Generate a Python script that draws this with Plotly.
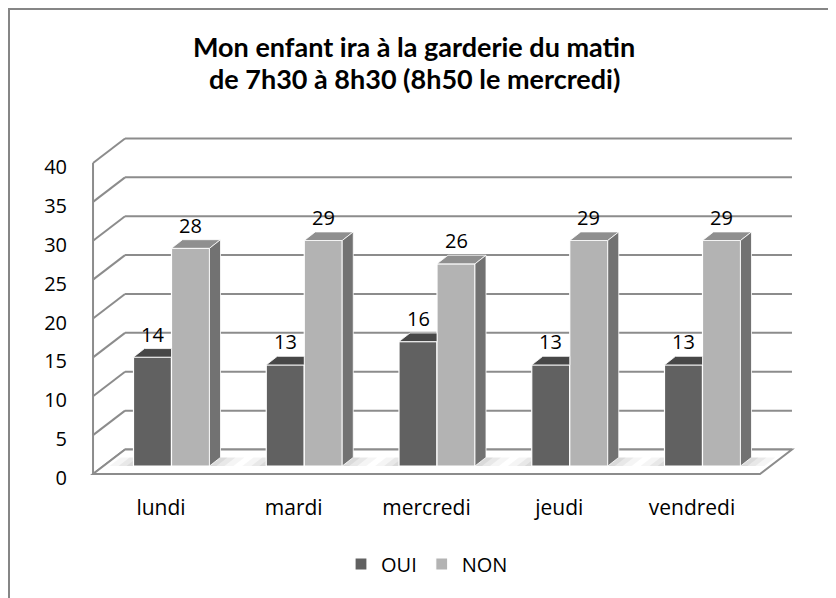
import plotly.graph_objects as go

# ---- data ----
categories = ["lundi", "mardi", "mercredi", "jeudi", "vendredi"]
oui = [14, 13, 16, 13, 13]
non = [28, 29, 26, 29, 29]
series_names = ["OUI", "NON"]
y_ticks = [0, 5, 10, 15, 20, 25, 30, 35, 40]
title_lines = ["Mon enfant ira à la garderie du matin", "de 7h30 à 8h30 (8h50 le mercredi)"]

# ---- layout geometry (screen pixels; the page body adds an 8px margin) ----
OFF = 8
W, H = 836 - OFF, 598 - OFF
L, R, T, B = 80, 830, 120, 493
X0PX, XSTEP = 161.0, 132.75      # pixel of category 0 (front plane), px per category
Y0PX, YSTEP = 474.0, 7.775       # pixel of value 0 (front plane), px per unit

def ux(px):
    return px / XSTEP

def uy(px):
    return px / YSTEP

def paper_x(px):
    return (px - L) / (R - L)

def paper_y(px):
    return (B - px) / (B - T)

xr = [(L - X0PX) / XSTEP, (R - X0PX) / XSTEP]
yr = [(Y0PX - B) / YSTEP, (Y0PX - T) / YSTEP]

DEPTH_DX, DEPTH_DY = ux(32), uy(24.5)      # full floor depth
BAR_DX0, BASE = ux(10.5), uy(8)            # bar plane offset from front
BAR_DDX, BAR_DDY = ux(11), uy(8.6)         # bar depth
BW = ux(38)                                # bar width
XL, XR = -0.512, 4.512                     # floor front left/right

FONT = "Open Sans"
GRID = "#8c8c8c"

fig = go.Figure()

col_front = ["#616161", "#b3b3b3"]
col_top = ["#474747", "#8f8f8f"]
col_side = ["#4a4a4a", "#727272"]
offsets = [BAR_DX0 - BW, BAR_DX0]

for s, (name, vals) in enumerate(zip(series_names, [oui, non])):
    fig.add_trace(go.Bar(
        x=list(range(len(categories))), y=vals, base=BASE,
        width=BW, offset=offsets[s], name=name,
        marker=dict(color=col_front[s], line=dict(color="white", width=1.2)),
        hoverinfo="skip",
    ))

shapes = []
for v in y_ticks:
    shapes.append(dict(type="line", xref="x", yref="y", layer="below",
                       x0=XL + DEPTH_DX, x1=XR + DEPTH_DX, y0=v + DEPTH_DY, y1=v + DEPTH_DY,
                       line=dict(color=GRID, width=2)))
    shapes.append(dict(type="line", xref="x", yref="y", layer="below",
                       x0=XL, x1=XL + DEPTH_DX, y0=v, y1=v + DEPTH_DY,
                       line=dict(color=GRID, width=2)))
shapes.append(dict(type="line", xref="x", yref="y", layer="below",
                   x0=XL, x1=XL, y0=0, y1=max(y_ticks),
                   line=dict(color=GRID, width=2)))
shapes.append(dict(type="path", xref="x", yref="y", layer="below",
                   path=f"M{XL},0 L{XR},0 L{XR+DEPTH_DX},{DEPTH_DY} L{XL+DEPTH_DX},{DEPTH_DY} Z",
                   fillcolor="white", line=dict(color=GRID, width=2)))


def poly(pts, color, layer="above", line=True):
    p = "M" + " L".join(f"{a},{b}" for a, b in pts) + " Z"
    return dict(type="path", xref="x", yref="y", layer=layer, path=p,
                fillcolor=color,
                line=dict(color="white", width=0.8) if line else dict(width=0))


annotations = []
for i in range(len(categories)):
    tops = [BASE + oui[i], BASE + non[i]]
    xl0 = i + offsets[0]
    xr1 = i + offsets[1] + BW
    for k, a in [(ux(24), 0.04), (ux(15), 0.05), (ux(7), 0.06)]:
        shapes.append(poly([(xr1, BASE), (xr1 + k, BASE), (xr1 + k + BAR_DDX, BASE + BAR_DDY),
                            (xr1 + BAR_DDX, BASE + BAR_DDY)], f"rgba(0,0,0,{a})", "below", False))
        shapes.append(poly([(xl0 - k, BASE), (xl0, BASE), (xl0 + BAR_DDX, BASE + BAR_DDY),
                            (xl0 - k + BAR_DDX, BASE + BAR_DDY)], f"rgba(0,0,0,{a})", "below", False))
    for s in range(2):
        xl = i + offsets[s]
        xrr = xl + BW
        top = tops[s]
        if s == 0 and tops[1] >= top:
            shapes.append(poly([(xl, top), (xrr, top), (xrr, top + BAR_DDY),
                                (xl + BAR_DDX, top + BAR_DDY)], col_top[s]))
        else:
            shapes.append(poly([(xl, top), (xrr, top), (xrr + BAR_DDX, top + BAR_DDY),
                                (xl + BAR_DDX, top + BAR_DDY)], col_top[s]))
            shapes.append(poly([(xrr, BASE), (xrr + BAR_DDX, BASE + BAR_DDY),
                                (xrr + BAR_DDX, top + BAR_DDY), (xrr, top)], col_side[s]))
        annotations.append(dict(x=xl + BW / 2, y=top, xref="x", yref="y",
                                text=str([oui, non][s][i]), showarrow=False,
                                yshift=23, font=dict(family=FONT, size=20, color="black")))

# title (two lines placed separately for tighter line spacing)
for line_text, cy in zip(title_lines, [46, 79]):
    annotations.append(dict(x=paper_x(414), y=paper_y(cy), xref="paper", yref="paper",
                            xanchor="center", yanchor="middle", showarrow=False,
                            text="<b>" + line_text + "</b>",
                            font=dict(family="Lato", size=27, color="black")))

# outer border (left + top visible)
shapes.append(dict(type="rect", xref="paper", yref="paper", layer="below",
                   x0=paper_x(9), x1=paper_x(W + 60),
                   y0=paper_y(H + 60), y1=paper_y(9),
                   line=dict(color="#868686", width=2)))

fig.update_layout(
    width=W, height=H,
    margin=dict(l=L - OFF, r=W - (R - OFF), t=T - OFF, b=H - (B - OFF)),
    paper_bgcolor="white", plot_bgcolor="rgba(0,0,0,0)",
    xaxis=dict(range=xr, tickvals=list(range(len(categories))), ticktext=categories,
               showgrid=False, zeroline=False, showline=False,
               ticks="", tickfont=dict(family=FONT, size=21, color="black")),
    yaxis=dict(range=yr, tickvals=y_ticks, showgrid=False, zeroline=False, showline=False,
               ticks="outside", ticklen=8, tickcolor="rgba(0,0,0,0)", ticklabelshift=4,
               tickfont=dict(family=FONT, size=20, color="black")),
    showlegend=True,
    legend=dict(orientation="h", x=paper_x(427), xanchor="center",
                y=paper_y(564), yanchor="middle",
                font=dict(family=FONT, size=20, color="black"), itemwidth=30),
    shapes=shapes, annotations=annotations,
)

fig.write_html("out.html")
